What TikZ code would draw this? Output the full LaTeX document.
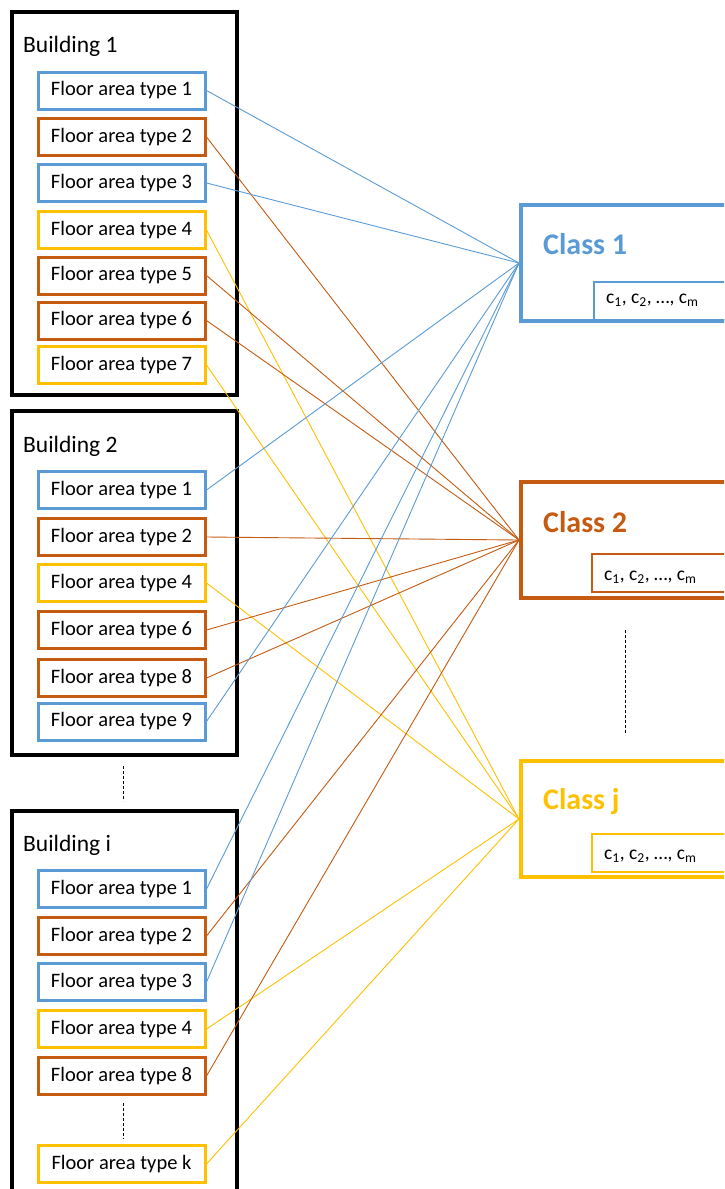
\documentclass[tikz,border=0pt]{standalone}
\usepackage{fontspec}
\setmainfont{Carlito}
\definecolor{blu}{HTML}{5B9BD5}
\definecolor{org}{HTML}{C55A11}
\definecolor{yel}{HTML}{FFC000}
\begin{document}
\begin{tikzpicture}[x=1pt,y=-1pt,
  fa/.style={draw, line width=3pt, minimum width=167pt, minimum height=37pt, inner sep=0pt, fill=white, font=\fontsize{20.5}{22}\selectfont},
  fb/.style={fa, draw=blu}, fo/.style={fa, draw=org}, fy/.style={fa, draw=yel},
  bld/.style={draw, line width=4.2pt, anchor=north west, inner sep=0pt},
  btitle/.style={anchor=west, inner sep=0pt, font=\fontsize{23.5}{25}\selectfont},
  cls/.style={line width=4pt, anchor=north west, inner sep=0pt, minimum width=260pt, minimum height=116pt},
  ctitle/.style={anchor=west, inner sep=0pt, font=\fontsize{30}{32}\selectfont\bfseries},
  cin/.style={line width=2pt, anchor=north west, inner sep=0pt, minimum width=200pt, minimum height=38pt},
  ctext/.style={anchor=west, inner sep=0pt, font=\fontsize{19.5}{21}\selectfont},
  lb/.style={draw=blu, line width=0.9pt}, lo/.style={draw=org, line width=0.9pt}, ly/.style={draw=yel, line width=0.9pt},
  dots/.style={densely dashed, line width=0.7pt}
]
\useasboundingbox (0,0) rectangle (724,1189);
\clip (0,0) rectangle (724,1189);

% buildings
\node[bld, minimum width=225pt, minimum height=383pt] (B1) at (10,10) {};
\node[bld, minimum width=225pt, minimum height=344pt] (B2) at (10,409) {};
\node[bld, minimum width=225pt, minimum height=420pt] (Bi) at (10,809) {};
\node[btitle] (B1t) at (23,46) {Building 1};
\node[btitle] (B2t) at (23,446) {Building 2};
\node[btitle] (Bit) at (23,845) {Building i};

% classes
\node[cls, draw=blu] (C1) at (519,203) {};
\node[cls, draw=org] (C2) at (519,480) {};
\node[cls, draw=yel] (Cj) at (519,759) {};
\node[cin, draw=blu] (C1in) at (593,281) {};
\node[cin, draw=org] (C2in) at (591,553) {};
\node[cin, draw=yel] (Cjin) at (591,833) {};
\node[ctitle, text=blu] (C1t) at (543,244) {Class 1};
\node[ctitle, text=org] (C2t) at (543,522) {Class 2};
\node[ctitle, text=yel] (Cjt) at (543,801) {Class j};
\node[ctext] (C1c) at (606,300) {c\textsubscript{1}, c\textsubscript{2}, …, c\textsubscript{m}};
\node[ctext] (C2c) at (604,577) {c\textsubscript{1}, c\textsubscript{2}, …, c\textsubscript{m}};
\node[ctext] (Cjc) at (604,856) {c\textsubscript{1}, c\textsubscript{2}, …, c\textsubscript{m}};

% floor areas
\node[fb] (a1) at (121.5,90.5) {Floor area type 1};
\node[fo] (a2) at (121.5,137) {Floor area type 2};
\node[fb] (a3) at (121.5,183) {Floor area type 3};
\node[fy] (a4) at (121.5,230) {Floor area type 4};
\node[fo] (a5) at (121.5,275.5) {Floor area type 5};
\node[fo] (a6) at (121.5,320.5) {Floor area type 6};
\node[fy] (a7) at (121.5,365) {Floor area type 7};

\node[fb] (b1) at (121.5,490) {Floor area type 1};
\node[fo] (b2) at (121.5,537) {Floor area type 2};
\node[fy] (b4) at (121.5,583) {Floor area type 4};
\node[fo] (b6) at (121.5,630) {Floor area type 6};
\node[fo] (b8) at (121.5,678) {Floor area type 8};
\node[fb] (b9) at (121.5,721.5) {Floor area type 9};

\node[fb] (i1) at (121.5,889) {Floor area type 1};
\node[fo] (i2) at (121.5,936) {Floor area type 2};
\node[fb] (i3) at (121.5,982) {Floor area type 3};
\node[fy] (i4) at (121.5,1029) {Floor area type 4};
\node[fo] (i8) at (121.5,1076) {Floor area type 8};
\node[fy] (ik) at (121.5,1164) {Floor area type k};

% dotted separators
\coordinate (d1a) at (123,766); \coordinate (d1b) at (123,801);
\coordinate (d2a) at (625,630); \coordinate (d2b) at (625,735);
\coordinate (d3a) at (123,1103); \coordinate (d3b) at (123,1139);
\draw[dots] (d1a) -- (d1b);
\draw[dots] (d2a) -- (d2b);
\draw[dots] (d3a) -- (d3b);

% connectors
\draw[lb] (a1.east) -- (C1.west);
\draw[lo] (a2.east) -- (C2.west);
\draw[lb] (a3.east) -- (C1.west);
\draw[ly] (a4.east) -- (Cj.west);
\draw[lo] (a5.east) -- (C2.west);
\draw[lo] (a6.east) -- (C2.west);
\draw[ly] (a7.east) -- (Cj.west);
\draw[lb] (b1.east) -- (C1.west);
\draw[lo] (b2.east) -- (C2.west);
\draw[ly] (b4.east) -- (Cj.west);
\draw[lo] (b6.east) -- (C2.west);
\draw[lo] (b8.east) -- (C2.west);
\draw[lb] (b9.east) -- (C1.west);
\draw[lb] (i1.east) -- (C1.west);
\draw[lo] (i2.east) -- (C2.west);
\draw[lb] (i3.east) -- (C1.west);
\draw[ly] (i4.east) -- (Cj.west);
\draw[lo] (i8.east) -- (C2.west);
\draw[ly] (ik.east) -- (Cj.west);
\end{tikzpicture}
\end{document}
